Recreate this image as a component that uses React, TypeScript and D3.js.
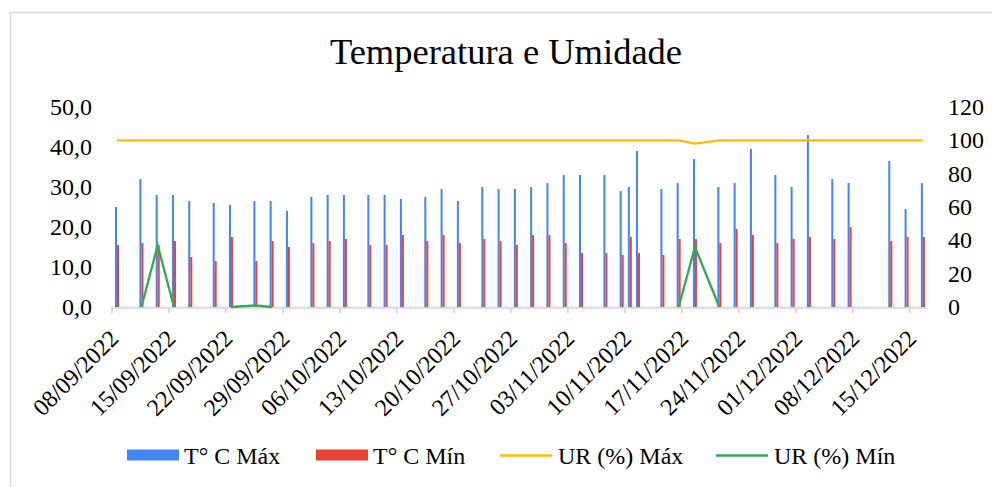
import React, { useEffect, useRef } from "react"
import * as d3 from "d3"

const dates = [
  "08/09/2022", "11/09/2022", "13/09/2022", "15/09/2022", "17/09/2022", "20/09/2022", "22/09/2022", "25/09/2022", "27/09/2022", "29/09/2022",
  "02/10/2022", "04/10/2022", "06/10/2022", "09/10/2022", "11/10/2022", "13/10/2022", "16/10/2022", "18/10/2022", "20/10/2022", "23/10/2022",
  "25/10/2022", "27/10/2022", "29/10/2022", "31/10/2022", "02/11/2022", "04/11/2022", "07/11/2022", "09/11/2022", "10/11/2022", "11/11/2022",
  "14/11/2022", "16/11/2022", "18/11/2022", "21/11/2022", "23/11/2022", "25/11/2022", "28/11/2022", "30/11/2022", "02/12/2022", "05/12/2022",
  "07/12/2022", "12/12/2022", "14/12/2022", "16/12/2022",
]
const tempMax = [
  25.0, 32.0, 28.0, 28.0, 26.5, 26.0, 25.5, 26.5, 26.5, 24.0,
  27.5, 28.0, 28.0, 28.0, 28.0, 27.0, 27.5, 29.5, 26.5, 30.0,
  29.5, 29.5, 30.0, 31.0, 33.0, 33.0, 33.0, 29.0, 30.0, 39.0,
  29.5, 31.0, 37.0, 30.0, 31.0, 39.5, 33.0, 30.0, 43.0, 32.0,
  31.0, 36.5, 24.5, 31.0,
]
const tempMin = [
  15.5, 16.0, 15.5, 16.5, 12.5, 11.5, 17.5, 11.5, 16.5, 15.0,
  16.0, 16.5, 17.0, 15.5, 15.5, 18.0, 16.5, 18.0, 16.0, 17.0,
  16.5, 15.5, 18.0, 18.0, 16.0, 13.5, 13.5, 13.0, 17.5, 13.5,
  13.0, 17.0, 17.0, 16.0, 19.5, 18.0, 16.0, 17.0, 17.5, 17.0,
  20.0, 16.5, 17.5, 17.5,
]
const urMax = [
  100, 100, 100, 100, 100, 100, 100, 100, 100, 100,
  100, 100, 100, 100, 100, 100, 100, 100, 100, 100,
  100, 100, 100, 100, 100, 100, 100, 100, 100, 100,
  100, 100, 98, 100, 100, 100, 100, 100, 100, 100,
  100, 100, 100, 100,
]
const urMin = [
  null, 0, 37, 0, null, null, 0, 1, 0, null,
  null, null, null, null, null, null, null, null, null, null,
  null, null, null, null, null, null, null, null, null, null,
  null, 0, 36, 0, null, null, null, null, null, null,
  null, null, null, null,
]
const xTickLabels = [
  "08/09/2022", "15/09/2022", "22/09/2022", "29/09/2022", "06/10/2022", "13/10/2022", "20/10/2022", "27/10/2022",
  "03/11/2022", "10/11/2022", "17/11/2022", "24/11/2022", "01/12/2022", "08/12/2022", "15/12/2022",
]
const leftTicks = [0, 10, 20, 30, 40, 50]
const rightTicks = [0, 20, 40, 60, 80, 100, 120]
const legendItems = [
  { label: "T° C Máx", color: "#4285f4", kind: "bar" },
  { label: "T° C Mín", color: "#ea4335", kind: "bar" },
  { label: "UR (%) Máx", color: "#fbbc04", kind: "line" },
  { label: "UR (%) Mín", color: "#34a853", kind: "line" },
]

const FONT = "'Liberation Serif', 'Times New Roman', serif"

export default function App() {
  const ref = useRef<SVGSVGElement>(null)

  useEffect(() => {
    const svg = d3.select(ref.current)
    svg.selectAll("*").remove()
    const parse = d3.utcParse("%d/%m/%Y")
    const days = dates.map(d => parse(d) as Date)

    const start = parse(dates[0]) as Date
    const end = d3.utcDay.offset(parse(dates[dates.length - 1]) as Date, 1)
    const x = d3.scaleUtc().domain([start, end]).range([112, 926])
    const yL = d3.scaleLinear().domain([0, 50]).range([307, 107])
    const yR = d3.scaleLinear().domain([0, 120]).range([307, 107])

    // chart border
    svg.append("path")
      .attr("d", "M10.5,487 L10.5,12.5 L992,12.5")
      .attr("fill", "none")
      .attr("stroke", "#d9d9d9")
      .attr("stroke-width", 1.5)

    svg.append("text")
      .attr("x", 506)
      .attr("y", 64)
      .attr("text-anchor", "middle")
      .attr("font-family", FONT)
      .attr("font-size", 36.5)
      .attr("fill", "#000")
      .text("Temperatura e Umidade")

    // left axis labels
    svg.append("g").selectAll("text")
      .data(leftTicks)
      .enter().append("text")
      .attr("x", 92)
      .attr("y", d => yL(d) + 8)
      .attr("text-anchor", "end")
      .attr("font-family", FONT)
      .attr("font-size", 24)
      .text(d => d3.format(".1f")(d).replace(".", ","))

    // right axis labels
    svg.append("g").selectAll("text")
      .data(rightTicks)
      .enter().append("text")
      .attr("x", 948)
      .attr("y", d => yR(d) + 8)
      .attr("font-family", FONT)
      .attr("font-size", 24)
      .text(d => d)

    // x axis
    const ticks = xTickLabels.map(d => parse(d) as Date)
    svg.append("line")
      .attr("x1", 112).attr("x2", 926)
      .attr("y1", 307.8).attr("y2", 307.8)
      .attr("stroke", "#d9d9d9")
      .attr("stroke-width", 2)
    svg.append("g").selectAll("line")
      .data(ticks)
      .enter().append("line")
      .attr("x1", d => x(d)).attr("x2", d => x(d))
      .attr("y1", 307).attr("y2", 313)
      .attr("stroke", "#d9d9d9")
      .attr("stroke-width", 2)
    svg.append("g").selectAll("text")
      .data(ticks)
      .enter().append("text")
      .attr("transform", d => "translate(" + (x(d) + 2) + ",334) rotate(-45)")
      .attr("dy", "0.35em")
      .attr("text-anchor", "end")
      .attr("font-family", FONT)
      .attr("font-size", 24)
      .text((d, i) => xTickLabels[i])

    // bars
    svg.append("g").selectAll("rect")
      .data(days)
      .enter().append("rect")
      .attr("x", d => x(d) + 3)
      .attr("width", 2)
      .attr("y", (d, i) => yL(tempMax[i]))
      .attr("height", (d, i) => yL(0) - yL(tempMax[i]))
      .attr("fill", "#4285f4")
    svg.append("g").selectAll("rect")
      .data(days)
      .enter().append("rect")
      .attr("x", d => x(d) + 5)
      .attr("width", 2)
      .attr("y", (d, i) => yL(tempMin[i]))
      .attr("height", (d, i) => yL(0) - yL(tempMin[i]))
      .attr("fill", "#ea4335")

    // lines
    const line = (vals: (number | null)[]) => d3.line<Date>()
      .defined((d, i) => vals[i] != null)
      .x(d => x(d) + 5)
      .y((d, i) => yR(vals[i] as number))
    svg.append("path")
      .attr("d", line(urMax)(days))
      .attr("fill", "none")
      .attr("stroke", "#fbbc04")
      .attr("stroke-width", 2.3)
    svg.append("path")
      .attr("d", line(urMin)(days))
      .attr("fill", "none")
      .attr("stroke", "#34a853")
      .attr("stroke-width", 2.3)

    // legend
    const legendX = [127, 316, 500, 716]
    const lg = svg.append("g").selectAll("g")
      .data(legendItems)
      .enter().append("g")
      .attr("transform", (d, i) => "translate(" + legendX[i] + ",0)")
    lg.filter(d => d.kind === "bar").append("rect")
      .attr("x", 0).attr("y", 449.5)
      .attr("width", 52).attr("height", 11)
      .attr("fill", d => d.color)
    lg.filter(d => d.kind === "line").append("line")
      .attr("x1", 0).attr("x2", 52)
      .attr("y1", 455.5).attr("y2", 455.5)
      .attr("stroke", d => d.color)
      .attr("stroke-width", 2.3)
    lg.append("text")
      .attr("x", d => d.kind === "bar" ? 57 : 58)
      .attr("y", 464)
      .attr("font-family", FONT)
      .attr("font-size", 24)
      .text(d => d.label)
  }, [])

  return (
    <svg ref={ref} width={992} height={487}
      style={{ position: "absolute", left: 0, top: 0, background: "#fff" }} />
  )
}
